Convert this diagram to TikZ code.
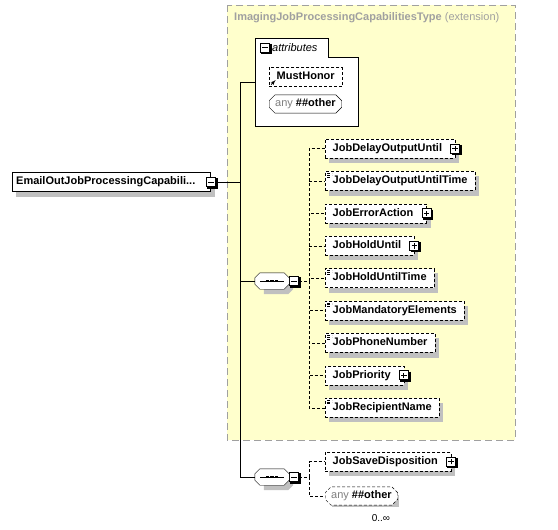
\documentclass[tikz,border=0pt]{standalone}
\usepackage{fontspec}
\setsansfont{Liberation Sans}
\usetikzlibrary{calc,arrows,shapes.misc,positioning}
\definecolor{typefill}{RGB}{255,255,204}
\definecolor{typeedge}{RGB}{160,160,160}
\definecolor{shadowgray}{RGB}{192,192,192}
\definecolor{anygray}{RGB}{128,128,128}
\pgfdeclarelayer{back}
\pgfdeclarelayer{shade}
\pgfsetlayers{back,shade,main}
\tikzset{
elem/.style={
  rectangle,
  draw,
  dash pattern=on 3pt off 2pt,
  fill=white,
  inner xsep=7.5pt,
  inner ysep=2pt,
  text height=8pt,
  text depth=2.5pt,
  minimum height=19pt,
  font=\sffamily\bfseries\fontsize{11}{13}\selectfont},
simple/.style={
  path picture={
    \draw[line width=0.8pt] ([xshift=2pt,yshift=-2pt]path picture bounding box.north west) -- ++(5pt,0);
    \draw[line width=0.8pt] ([xshift=2pt,yshift=-3.8pt]path picture bounding box.north west) -- ++(5pt,0);
    \draw[line width=0.8pt] ([xshift=2pt,yshift=-5.6pt]path picture bounding box.north west) -- ++(3.5pt,0);
  }},
refmark/.style={
  path picture={
    \draw[line width=0.8pt, -latex'] ([xshift=2pt,yshift=2pt]path picture bounding box.south west) -- ++(4.5pt,4.5pt);
  }},
anybox/.style={
  chamfered rectangle,
  chamfered rectangle xsep=3pt,
  draw,
  fill=white,
  inner xsep=3pt,
  inner ysep=1pt,
  text height=8pt,
  text depth=2.5pt,
  minimum height=18pt,
  font=\sffamily\bfseries\fontsize{11}{13}\selectfont},
seqbox/.style={
  rectangle,
  inner sep=0pt,
  minimum width=34pt,
  minimum height=16pt},
signbox/.style={
  rectangle,
  draw,
  fill=white,
  line width=0.9pt,
  minimum size=9pt,
  inner sep=0pt},
minusbox/.style={
  signbox,
  path picture={
    \draw[line width=1pt] ([xshift=-2.8pt]path picture bounding box.center) -- ++(5.6pt,0);
  }},
plusbox/.style={
  signbox,
  path picture={
    \draw[line width=1pt] ([xshift=-2.8pt]path picture bounding box.center) -- ++(5.6pt,0);
    \draw[line width=1pt] ([yshift=-2.8pt]path picture bounding box.center) -- ++(0,5.6pt);
  }},
line/.style={draw},
optline/.style={draw, dash pattern=on 3pt off 2pt}
}

\begin{document}
\begin{tikzpicture}[x=1pt,y=-1pt,line width=1pt]
    \useasboundingbox (0,0) rectangle (558,530);
    % complex type
    \begin{pgfonlayer}{back}
      \draw[fill=typefill, draw=typeedge, dash pattern=on 7pt off 4pt] (227,5) rectangle (515,440);
    \end{pgfonlayer}
    \node[anchor=west, inner sep=0pt, text=typeedge, font=\sffamily\fontsize{11}{13}\selectfont] (typename) at (234,18)
      {{\bfseries ImagingJobProcessingCapabilitiesType} (extension)};
    % root element
    \node[elem, solid, anchor=west, inner xsep=4pt] (root) at (12,182) {EmailOutJobProcessingCapabili...\rule{11pt}{0pt}};
    \node[minusbox] (rootminus) at ([xshift=0.5pt]root.east) {};
    % attributes
    \node[anchor=north west, inner sep=0pt, minimum width=103pt, minimum height=88pt] (attr) at (255,38) {};
    \draw[fill=white] (255,38) -- (328,38) -- (328,57) -- (358,57) -- (358,126) -- (255,126) -- cycle;
    \node[minusbox] (attrminus) at (265,47.5) {};
    \node[anchor=west, inner sep=0pt, font=\sffamily\itshape\fontsize{11}{13}\selectfont] (attrlabel) at (272,47.5) {attributes};
    \node[elem, refmark, anchor=west] (must) at (269,77) {MustHonor};
    \node[anybox, anchor=west] (attrany) at (269,104) {{\mdseries\color{anygray}any} \#\#other};
    % first sequence
    \node[seqbox] (seq1) at (272,281) {};
    \node[minusbox, anchor=west] (seq1minus) at (seq1.east) {};
    \node[elem, anchor=west] (d1) at (325,148.5) {JobDelayOutputUntil\rule{5.5pt}{0pt}};
    \node[elem, simple, below=13pt of d1.south west, anchor=north west] (d2) {JobDelayOutputUntilTime};
    \node[elem, below=13pt of d2.south west, anchor=north west] (d3) {JobErrorAction\rule{5.5pt}{0pt}};
    \node[elem, below=13pt of d3.south west, anchor=north west] (d4) {JobHoldUntil\rule{5.5pt}{0pt}};
    \node[elem, simple, below=13pt of d4.south west, anchor=north west] (d5) {JobHoldUntilTime};
    \node[elem, simple, below=13pt of d5.south west, anchor=north west] (d6) {JobMandatoryElements};
    \node[elem, simple, below=13pt of d6.south west, anchor=north west] (d7) {JobPhoneNumber};
    \node[elem, below=13pt of d7.south west, anchor=north west] (d8) {JobPriority\rule{5.5pt}{0pt}};
    \node[elem, simple, below=13pt of d8.south west, anchor=north west] (d9) {JobRecipientName};
    \node[plusbox] (d1plus) at (d1.east) {};
    \node[plusbox] (d3plus) at (d3.east) {};
    \node[plusbox] (d4plus) at (d4.east) {};
    \node[plusbox] (d8plus) at (d8.east) {};
    % second sequence
    \node[seqbox] (seq2) at (272,477) {};
    \node[minusbox, anchor=west] (seq2minus) at (seq2.east) {};
    \node[elem, anchor=west] (save) at (325,461.5) {JobSaveDisposition\rule{5.5pt}{0pt}};
    \node[plusbox] (saveplus) at (save.east) {};
    \node[anybox, dash pattern=on 3pt off 2pt, anchor=west] (seqany) at (325,496) {{\mdseries\color{anygray}any} \#\#other};
    \node[inner sep=0pt, font=\sffamily\fontsize{10}{12}\selectfont] (occurs) at (381,518) {0..∞};
    % sequence symbols
    \foreach \s in {seq1,seq2} {
      \draw[fill=white] ($(\s.north west)+(5,0)$) -- ($(\s.north east)+(-5,0)$)
        -- ($(\s.north east)+(0,5)$) -- ($(\s.south east)+(0,-5)$)
        -- ($(\s.south east)+(-5,0)$) -- ($(\s.south west)+(5,0)$)
        -- ($(\s.south west)+(0,-5)$) -- ($(\s.north west)+(0,5)$) -- cycle;
      \draw ($(\s.center)+(-12,0)$) -- ($(\s.center)+(12,0)$);
      \foreach \dx in {-4.5,0,4.5}
        \fill ($(\s.center)+(\dx,0)$) +(-1.6,-1.3) rectangle +(1.6,1.3);
    }
    % shadows
    \begin{pgfonlayer}{shade}
      \foreach \n in {root,must,attrany,d1,d2,d3,d4,d5,d6,d7,d8,d9,save,seqany}
        \fill[shadowgray] ($(\n.north west)+(4,5)$) rectangle ($(\n.south east)+(4,5)$);
      \foreach \s in {seq1,seq2}
        \fill[shadowgray] ($(\s.north west)+(9,5)$) -- ($(\s.north east)+(-1,5)$)
          -- ($(\s.north east)+(4,10)$) -- ($(\s.south east)+(4,0)$)
          -- ($(\s.south east)+(-1,5)$) -- ($(\s.south west)+(9,5)$) -- cycle;
    \end{pgfonlayer}
    \foreach \b in {rootminus,attrminus,seq1minus,seq2minus,d1plus,d3plus,d4plus,d8plus,saveplus}
      \draw[line width=1.4pt] ($(\b.north east)+(0.9,1.2)$) -- ($(\b.south east)+(0.9,0.9)$) -- ($(\b.south west)+(1.2,0.9)$);
    % connectors
    \coordinate (bus) at (240,182);
    \coordinate (fan1) at (309,281);
    \coordinate (fan2) at (309,477);
    \path [line] (rootminus.east) -- (bus);
    \path [line] (bus) |- (attr.west);
    \path [line] (bus) |- (seq1.west);
    \path [line] (bus) |- (seq2.west);
    \path [optline] (seq1minus.east) -- (fan1);
    \foreach \n in {d1,d2,d3,d4,d5,d6,d7,d8,d9}
      \path [optline] (fan1) |- (\n.west);
    \path [optline] (seq2minus.east) -- (fan2);
    \path [optline] (fan2) |- (save.west);
    \path [optline] (fan2) |- (seqany.west);
\end{tikzpicture}
\end{document}
